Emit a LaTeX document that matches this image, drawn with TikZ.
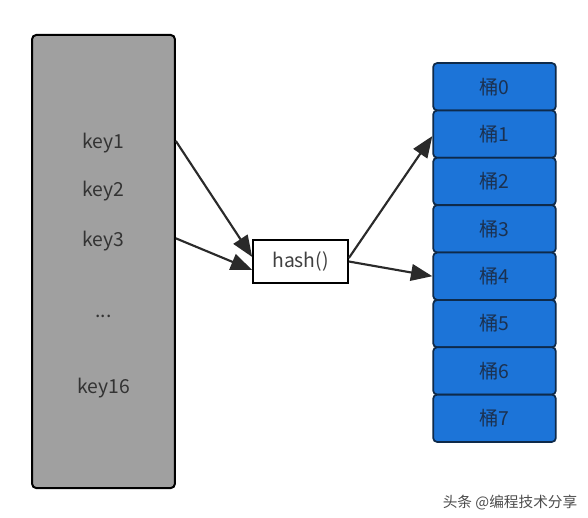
\documentclass[tikz,border=0pt]{standalone}
\usepackage{fontspec}
\setmainfont{Noto Sans CJK SC}
\usepackage{tikz}
\usetikzlibrary{arrows.meta}
\definecolor{keygray}{HTML}{A0A0A0}
\definecolor{bucketblue}{HTML}{1C74D8}
\definecolor{bucketline}{HTML}{0E2A4A}
\definecolor{buckettext}{HTML}{1B3150}
\definecolor{arrowgray}{HTML}{2A2A2A}

\begin{document}
\begin{tikzpicture}[x=0.75pt, y=-0.75pt,
    every node/.style={font=\fontsize{14.5}{17}\selectfont},
    keybox/.style={rectangle, rounded corners=3pt, draw=black, line width=1.5pt, fill=keygray, minimum width=107pt, minimum height=339.75pt},
    hashbox/.style={rectangle, draw=black, line width=1.5pt, fill=white, minimum width=71pt, minimum height=32.25pt},
    bucket/.style={rectangle, rounded corners=3pt, draw=bucketline, line width=1.3pt, fill=bucketblue, text=buckettext, minimum width=92pt, minimum height=35.5pt},
    arr/.style={-{Triangle[length=16pt, width=12.5pt]}, draw=arrowgray, fill=arrowgray, line width=1.6pt}]
    \useasboundingbox (0, 0) rectangle (588, 517);

    \node[keybox] (keys) at (103.5, 261.5) {};
    \node[text=black!80] (k1) at (103.5, 143) {key1};
    \node[text=black!80] (k2) at (103.5, 191) {key2};
    \node[text=black!80] (k3) at (103.5, 241) {key3};
    \node[text=black!80] (kdots) at (103.5, 316) {...};
    \node[text=black!80] (k16) at (103.5, 388) {key16};

    \node[hashbox, text=black!75] (hash) at (300.5, 261.5) {hash()};

    \node[bucket] (b0) at (494.5, 86.7) {桶0};
    \node[bucket] (b1) at (494.5, 134.1) {桶1};
    \node[bucket] (b2) at (494.5, 181.4) {桶2};
    \node[bucket] (b3) at (494.5, 228.8) {桶3};
    \node[bucket] (b4) at (494.5, 276.2) {桶4};
    \node[bucket] (b5) at (494.5, 323.6) {桶5};
    \node[bucket] (b6) at (494.5, 370.9) {桶6};
    \node[bucket] (b7) at (494.5, 418.3) {桶7};

    \draw[arr] ([yshift=1.5pt]keys.east |- k1) -- ([yshift=3.4pt]hash.west);
    \draw[arr] ([yshift=2pt]keys.east |- k3) -- ([yshift=-6.4pt]hash.west);
    \draw[arr] ([yshift=2.6pt]hash.east) -- ([yshift=-1.5pt]b1.west);
    \draw[arr] (hash.east) -- (b4.west);

    \node[font=\fontsize{11}{13}\selectfont, text=black!70] (mark) at (510, 503) {头条 @编程技术分享};
\end{tikzpicture}
\end{document}
